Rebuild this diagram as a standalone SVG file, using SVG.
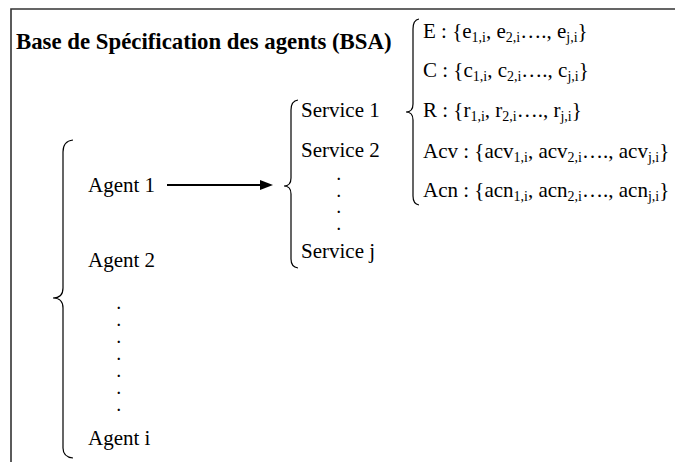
<svg xmlns="http://www.w3.org/2000/svg" width="675" height="462" viewBox="0 0 675 462">
<style>
text{font-family:"Liberation Serif","Times New Roman",serif;font-size:21px;fill:#000}
.title{font-weight:bold;font-size:22.8px}
.sub{font-size:14px}
.dot{font-size:14px;font-weight:bold}
.brace{fill:none;stroke:#000;stroke-width:1.2}
.frame{fill:none;stroke:#333;stroke-width:1.6}
</style>
<defs>
<marker id="ah" markerWidth="13" markerHeight="10" refX="0" refY="5" orient="auto" markerUnits="userSpaceOnUse">
<path d="M0,0 L13,5 L0,10 Z" fill="#000"/>
</marker>
</defs>
<rect width="675" height="462" fill="#fff"/>
<path class="frame" d="M11,462 L11,9 L675,9"/>
<g id="title"><text class="title" x="16" y="49">Base de Spécification des agents (BSA)</text></g>
<g id="agents">
<path class="brace" d="M73,140 Q63,141 63,152 L63,288 Q63,298 53,298 Q63,298 63,308 L63,448 Q63,457 73,458"/>
<text x="88" y="192">Agent 1</text>
<text x="88" y="267">Agent 2</text>
<text class="dot" x="117" y="309">.</text>
<text class="dot" x="117" y="326">.</text>
<text class="dot" x="117" y="343">.</text>
<text class="dot" x="117" y="360">.</text>
<text class="dot" x="117" y="377">.</text>
<text class="dot" x="117" y="394">.</text>
<text class="dot" x="117" y="411">.</text>
<text x="88" y="445">Agent i</text>
</g>
<g id="services">
<path class="brace" d="M298,100 Q291,101 291,110 L291,178 Q291,186 284,186 Q291,186 291,194 L291,259 Q291,267 298,268"/>
<text x="301" y="117">Service 1</text>
<text x="301" y="157">Service 2</text>
<text class="dot" x="337" y="180">.</text>
<text class="dot" x="337" y="196.5">.</text>
<text class="dot" x="337" y="213">.</text>
<text class="dot" x="337" y="229.5">.</text>
<text x="301" y="258">Service j</text>
</g>
<g id="spec">
<path class="brace" d="M419,19 Q413,20 413,29 L413,104 Q413,112 406,112 Q413,112 413,120 L413,196 Q413,204 419,205"/>
<text x="423" y="38">E : {e<tspan class="sub" dy="4">1,i</tspan><tspan dy="-4">, e</tspan><tspan class="sub" dy="4">2,i</tspan><tspan dy="-4">…., e</tspan><tspan class="sub" dy="4">j,i</tspan><tspan dy="-4">}</tspan></text>
<text x="423" y="77">C : {c<tspan class="sub" dy="4">1,i</tspan><tspan dy="-4">, c</tspan><tspan class="sub" dy="4">2,i</tspan><tspan dy="-4">…., c</tspan><tspan class="sub" dy="4">j,i</tspan><tspan dy="-4">}</tspan></text>
<text x="423" y="117">R : {r<tspan class="sub" dy="4">1,i</tspan><tspan dy="-4">, r</tspan><tspan class="sub" dy="4">2,i</tspan><tspan dy="-4">…., r</tspan><tspan class="sub" dy="4">j,i</tspan><tspan dy="-4">}</tspan></text>
<text x="423" y="158">Acv : {acv<tspan class="sub" dy="4">1,i</tspan><tspan dy="-4">, acv</tspan><tspan class="sub" dy="4">2,i</tspan><tspan dy="-4">…., acv</tspan><tspan class="sub" dy="4">j,i</tspan><tspan dy="-4">}</tspan></text>
<text x="423" y="197">Acn : {acn<tspan class="sub" dy="4">1,i</tspan><tspan dy="-4">, acn</tspan><tspan class="sub" dy="4">2,i</tspan><tspan dy="-4">…., acn</tspan><tspan class="sub" dy="4">j,i</tspan><tspan dy="-4">}</tspan></text>
</g>
<g id="connectors">
<line x1="167" y1="185" x2="260" y2="185" stroke="#000" stroke-width="2" marker-end="url(#ah)"/>
</g>
</svg>
